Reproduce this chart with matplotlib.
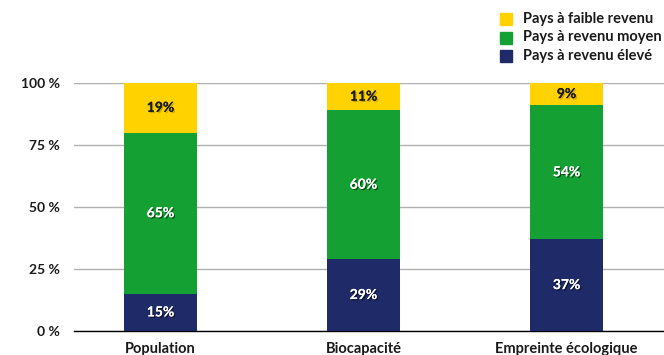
import matplotlib
matplotlib.use("Agg")
import matplotlib.pyplot as plt
import matplotlib.patheffects as pe
import numpy as np

plt.rcParams['font.family'] = ['Lato', 'DejaVu Sans']

# data (shares in %)
categories = ["Population", "Biocapacité", "Empreinte écologique"]
high = [15, 29, 37]    # Pays à revenu élevé
middle = [65, 60, 54]  # Pays à revenu moyen
low = [19, 11, 9]      # Pays à faible revenu
yticks = [0, 25, 50, 75, 100]

c_high = "#1f2a68"
c_mid = "#14a032"
c_low = "#ffd200"

fig = plt.figure(figsize=(6.64, 3.55), dpi=100)
ax = fig.add_axes([74 / 664, 1 - 331 / 355, 590 / 664, 248 / 355])

x = np.arange(len(categories))
w = 0.36
high = np.array(high)
middle = np.array(middle)
# rounded shares: top segment fills the bar up to 100 %
top = 100 - high - middle

ax.bar(x, high, w, color=c_high, zorder=3)
ax.bar(x, middle, w, bottom=high, color=c_mid, zorder=3)
ax.bar(x, top, w, bottom=high + middle, color=c_low, zorder=3)

shadow = [pe.withSimplePatchShadow(offset=(1, -1), shadow_rgbFace="k", alpha=0.5), pe.Normal()]
for i in range(len(categories)):
    ax.text(x[i], high[i] / 2, f"{high[i]}%", ha="center", va="center", color="white",
            fontsize=10, fontweight="bold", zorder=4, path_effects=shadow)
    ax.text(x[i], high[i] + middle[i] / 2, f"{middle[i]}%", ha="center", va="center", color="white",
            fontsize=10, fontweight="bold", zorder=4, path_effects=shadow)
    ax.text(x[i], high[i] + middle[i] + top[i] / 2, f"{low[i]}%", ha="center", va="center",
            color="#1a1a1a", fontsize=10, fontweight="bold", zorder=4,
            path_effects=[pe.withSimplePatchShadow(offset=(1, -1), shadow_rgbFace="#a08000", alpha=0.5), pe.Normal()])

ax.set_xlim(-0.426, 2.48)
ax.set_ylim(0, 100)
ax.set_yticks(yticks)
ax.set_yticklabels([f"{t} %" for t in yticks], fontsize=10, fontweight="bold", color="#1a1a1a")
ax.set_xticks(x)
ax.set_xticklabels(categories, fontsize=10.5, fontweight="bold", color="#1a1a1a")
ax.tick_params(length=0, axis="y", pad=10)
ax.tick_params(length=0, axis="x", pad=8)
for s in ["top", "right", "left"]:
    ax.spines[s].set_visible(False)
ax.spines["bottom"].set_color("black")
ax.spines["bottom"].set_linewidth(1)
ax.grid(axis="y", color="#b0b0b0", linewidth=1, zorder=0)
ax.set_axisbelow(True)

# legend
legend_items = [("Pays à faible revenu", c_low), ("Pays à revenu moyen", c_mid), ("Pays à revenu élevé", c_high)]
for k, (lab, col) in enumerate(legend_items):
    yy = 1 - (19 + k * 18.5) / 355
    fig.patches.append(plt.Rectangle((500 / 664, yy - 6 / 355), 12 / 664, 12 / 355,
                                     transform=fig.transFigure, color=col))
    fig.text(523 / 664, yy, lab, ha="left", va="center", fontsize=10.5, fontweight="bold", color="#1a1a1a")

fig.savefig("out.png", dpi=100)
